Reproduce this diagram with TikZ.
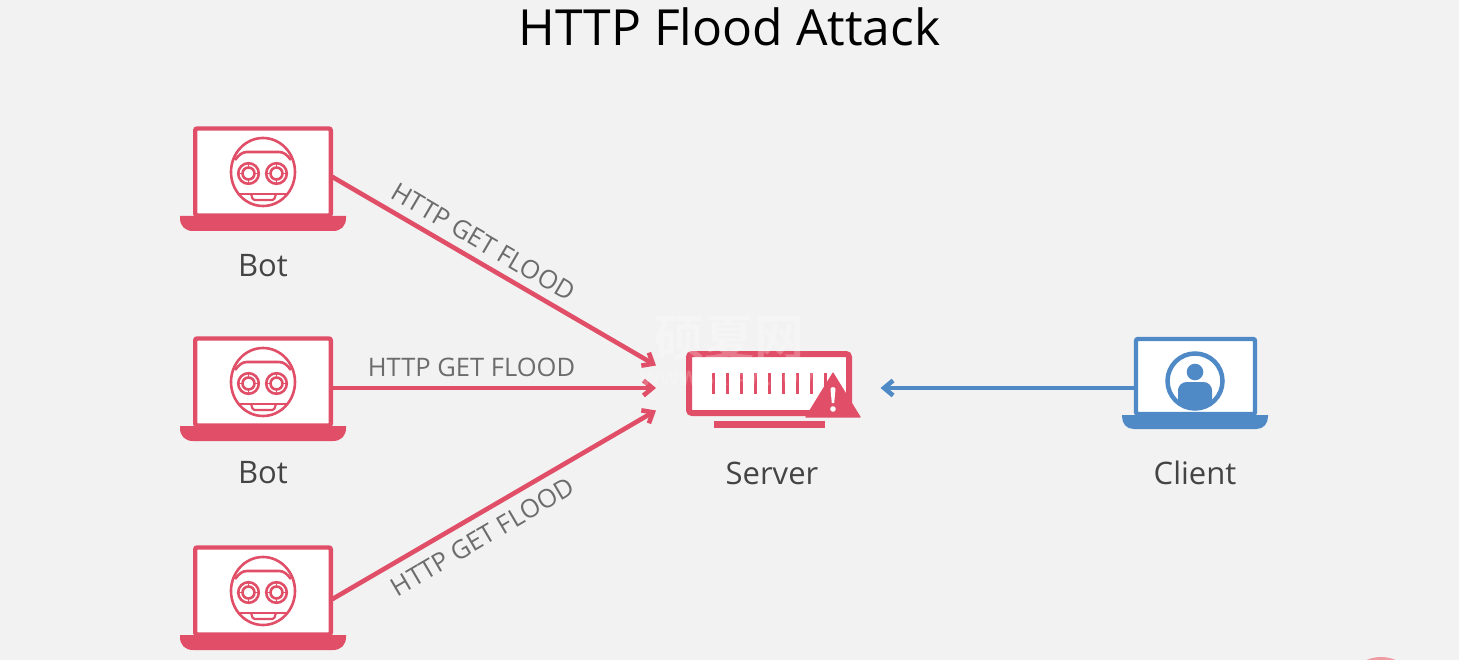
\documentclass[tikz,border=0pt]{standalone}
\usepackage{fontspec}
\setmainfont{Open Sans}
\newfontfamily\cjkwm{Noto Sans CJK SC}[BoldFont={Noto Sans CJK SC Bold}]
\usetikzlibrary{arrows.meta}
\definecolor{pagebg}{HTML}{F2F2F2}
\definecolor{alert}{HTML}{E04F67}
\definecolor{calm}{HTML}{4F8AC7}
\definecolor{labelgrey}{HTML}{6C6C6C}
\definecolor{captiongrey}{HTML}{444444}
\definecolor{cornerblob}{HTML}{EF9CA2}
\tikzset{
  screen/.style={draw=#1,fill=white,line width=4.4pt,rounded corners=2pt,inner sep=0pt,outer sep=0pt},
  flow/.style={line width=4.6pt,draw=#1,-{Straight Barb[length=9pt,width=15pt]}},
  flowlabel/.style={text=labelgrey,font=\fontsize{25.5}{25.5}\selectfont,inner sep=0pt},
  caption/.style={text=captiongrey,font=\fontsize{31}{31}\selectfont,inner sep=0pt},
  facepen/.style={draw=alert,line width=2.6pt},
  botlaptop/.pic={
    \node[screen=alert,minimum width=135.6pt,minimum height=87pt] (screen) at (0,0) {};
    \fill[alert] (-83,44) -- (83,44) -- (83,46) .. controls (83,54) and (78,59) .. (70,59)
      -- (-70,59) .. controls (-78,59) and (-83,54) .. (-83,46) -- cycle;
    \draw[facepen] (0,0) ellipse [x radius=32pt,y radius=34pt];
    \draw[facepen] (-28,-12) .. controls (-24,-17) and (-21,-20) .. (-16,-20) -- (16,-20)
      .. controls (21,-20) and (24,-17) .. (28,-12);
    \draw[facepen] (-24,22) -- (24,22);
    \draw[facepen,line width=2.2pt,rounded corners=1.5pt] (-12,22) -- (-10,28) -- (11,28) -- (13,22);
    \foreach \ex in {-14.5,13.5}{
      \begin{scope}[shift={(\ex,1.5)}]
        \draw[facepen] (0,0) circle [radius=10.3pt];
        \draw[facepen] (0,0) circle [radius=6pt];
        \draw[facepen,line width=1.6pt] (0,-10) -- (0,-6) (0,10) -- (0,6) (-10,0) -- (-6,0) (10,0) -- (6,0);
      \end{scope}
    }
  },
  userlaptop/.pic={
    \node[screen=calm,minimum width=119pt,minimum height=75pt] (screen) at (0,0) {};
    \fill[calm] (-73.5,38.5) -- (72.5,38.5) -- (72.5,40) .. controls (72.5,47) and (68,52.5) .. (61,52.5)
      -- (-62,52.5) .. controls (-69,52.5) and (-73.5,47) .. (-73.5,40) -- cycle;
    \begin{scope}
      \clip (-0.5,4.5) circle [radius=28pt];
      \fill[calm] (-17.5,30) -- (-17.5,15) .. controls (-17.5,8) and (-13,5.5) .. (-8,5.5)
        -- (7,5.5) .. controls (12,5.5) and (16.5,8) .. (16.5,15) -- (16.5,30) -- cycle;
    \end{scope}
    \fill[calm] (-0.5,-4.5) circle [radius=8.3pt];
    \draw[calm,line width=4.5pt] (-0.5,4.5) circle [radius=27.5pt];
  }
}
\begin{document}
\begin{tikzpicture}[x=1pt,y=-1pt]
  \useasboundingbox (0,0) rectangle (1459,660);
  \begin{scope}
    \clip (0,0) rectangle (1459,660);
    \fill[pagebg] (0,0) rectangle (1459,660);
    \fill[cornerblob] (1381,693.5) circle [radius=36.5pt];
  \end{scope}

  \node[font=\fontsize{49.8}{49.8}\selectfont,inner sep=0pt] (title) at (729.5,27) {HTTP Flood Attack};

  % Attacking machines and the client
  \pic (bota) at (263,172) {botlaptop};
  \pic (botb) at (263,382) {botlaptop};
  \pic (botc) at (263,591) {botlaptop};
  \pic (client) at (1195.5,376.5) {userlaptop};

  % Server with warning triangle
  \node[draw=alert,fill=white,line width=6pt,rounded corners=3pt,minimum width=160pt,minimum height=59pt,inner sep=0pt,outer sep=0pt] (server) at (769,383.5) {};
  \foreach \bx in {713.5,727.5,...,825.5}{
    \fill[alert] (\bx-1.8,373) rectangle (\bx+1.8,393.5);
  }
  \fill[alert] (714,421) rectangle (824.5,427.5);
  \fill[alert,rounded corners=0.6pt] (833,372) -- (861,417.5) -- (805,417.5) -- cycle;
  \fill[white] (830.5,389) .. controls (830.5,386.5) and (835.5,386.5) .. (835.5,389) -- (834.2,403) -- (831.8,403) -- cycle;
  \fill[white] (833,409) circle [radius=2.8pt];

  % Captions
  \node[caption] (capa) at (263,265.5) {Bot};
  \node[caption] (capb) at (263,473) {Bot};
  \node[caption] (caps) at (772,473) {Server};
  \node[caption] (capc) at (1195,473) {Client};

  % Traffic
  \coordinate (tipa) at (656,365.5);
  \coordinate (tipb) at (656,388);
  \coordinate (tipc) at (656,410.5);
  \coordinate (tipd) at (880.5,388);
  \draw[flow=alert] ([yshift=-4pt]botascreen.east) -- (tipa);
  \draw[flow=alert] ([yshift=-6pt]botbscreen.east) -- (tipb);
  \draw[flow=alert] ([yshift=-9pt]botcscreen.east) -- (tipc);
  \draw[flow=calm] ([yshift=-11.5pt]clientscreen.west) -- (tipd);

  \node[flowlabel,rotate=-30.4] (laba) at (483.5,242) {HTTP GET FLOOD};
  \node[flowlabel] (labb) at (471.5,367.5) {HTTP GET FLOOD};
  \node[flowlabel,rotate=30.4] (labc) at (482.5,537) {HTTP GET FLOOD};

  % Site stamp laid over the server
  \node[text=white,opacity=0.25,inner sep=0pt,font=\cjkwm\bfseries\fontsize{50}{50}\selectfont] (stamp) at (729,338) {硕夏网};
  \node[text=white,opacity=0.2,inner sep=0pt,font=\bfseries\fontsize{20}{20}\selectfont] (stampurl) at (729,378) {WWW.SXIAW.COM};
\end{tikzpicture}
\end{document}
